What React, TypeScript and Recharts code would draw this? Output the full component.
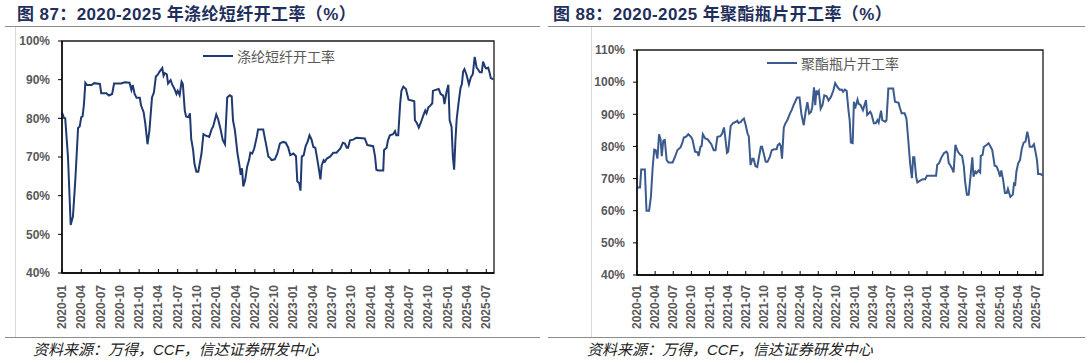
import { LineChart, Line, XAxis, YAxis, ReferenceArea } from 'recharts';

// x positions are months counted from 2020-01 (0 = start of Jan 2020)
const quarterLabels = [
    '2020-01', '2020-04', '2020-07', '2020-10', '2021-01', '2021-04', '2021-07', '2021-10',
    '2022-01', '2022-04', '2022-07', '2022-10', '2023-01', '2023-04', '2023-07', '2023-10',
    '2024-01', '2024-04', '2024-07', '2024-10', '2025-01', '2025-04', '2025-07'
];

const psfYTicks = [40, 50, 60, 70, 80, 90, 100];
const chipYTicks = [40, 50, 60, 70, 80, 90, 100, 110];

// 涤纶短纤开工率
const psfMonths = [
    0, 0.3, 0.5, 0.93, 1.35, 1.7, 2.07, 2.5, 2.75, 3.0,
    3.2, 3.42, 3.63, 3.9, 4.6, 5.0, 5.9, 6.1, 6.9, 7.3,
    7.8, 8.1, 9.2, 9.75, 10.5, 10.8, 11.0, 11.3, 11.6, 12.1,
    12.3, 12.7, 12.96, 13.3, 13.6, 14.0, 14.3, 14.6, 14.9, 15.1,
    15.6, 15.8, 16.0, 16.3, 16.5, 16.9, 17.1, 17.5, 17.8, 18.0,
    18.3, 18.6, 18.8, 19.1, 19.3, 19.7, 19.9, 20.1, 20.4, 20.6,
    20.9, 21.2, 21.7, 22.0, 22.3, 22.9, 23.3, 23.5, 24.0, 24.3,
    24.7, 25.0, 25.35, 25.7, 26.1, 26.4, 26.6, 26.9, 27.3, 27.6,
    27.8, 28.0, 28.2, 28.5, 28.8, 29.1, 29.3, 29.6, 29.9, 30.3,
    30.5, 31.3, 31.6, 31.8, 32.1, 32.3, 32.6, 33.1, 33.5, 33.9,
    34.4, 34.8, 35.2, 35.5, 36.0, 36.4, 36.6, 36.9, 37.1, 37.3,
    37.6, 37.9, 38.2, 38.5, 38.8, 39.1, 39.4, 39.6, 39.9, 40.2,
    40.4, 40.7, 40.9, 41.2, 41.7, 42.2, 42.7, 43.3, 43.7, 44.0,
    44.3, 44.5, 44.8, 45.3, 45.8, 47.1, 47.5, 48.4, 48.7, 48.9,
    49.2, 49.97, 50.1, 50.5, 50.7, 51.0, 51.5, 51.8, 52.0, 52.3,
    52.6, 52.8, 53.1, 53.5, 53.9, 54.4, 54.8, 54.9, 55.2, 55.5,
    55.8, 56.2, 56.5, 56.7, 57.0, 57.2, 57.6, 57.7, 58.0, 58.6,
    58.9, 59.3, 59.5, 59.8, 60.1, 60.3, 60.6, 60.8, 61.0, 61.2,
    61.4, 61.7, 62.0, 62.2, 62.4, 62.6, 62.9, 63.3, 63.6, 63.9,
    64.2, 64.5, 64.7, 65.0, 65.3, 65.5, 65.8, 66.0, 66.3, 66.5,
    66.7, 67.1
];
const psfRates = [
    81.5, 80.1, 80, 70, 52.4, 54.6, 64, 77.5, 77.9, 80.3,
    80.5, 83.7, 89.2, 88.6, 88.6, 89.1, 88.9, 86.5, 86.5, 85.9,
    86.3, 89, 89, 89.3, 89.2, 87.3, 88.6, 86.3, 85.3, 85.3,
    83.3, 81.6, 78.6, 73.3, 76.9, 85.4, 86.7, 90.8, 91.3, 91.9,
    93, 91, 91.7, 91.4, 89, 89.9, 88.9, 87.6, 86.3, 87.1,
    86, 89.5, 88.9, 82, 80.5, 80.3, 81.3, 74.7, 71.7, 68.3,
    66.2, 66.2, 70.9, 75.9, 75.6, 75.2, 77.3, 77.8, 81, 79.7,
    76.9, 74.4, 73.3, 85.4, 86, 85.7, 79.5, 76.9, 70.9, 67.9,
    65.4, 67.1, 62.4, 64.1, 67.5, 69.2, 71.1, 70.9, 72.2, 75.2,
    77.1, 77.1, 74.5, 72.8, 70.1, 69.9, 69.2, 69.4, 70.9, 73.5,
    73.9, 73.7, 72.4, 70.5, 70.9, 70.2, 63.7, 63.2, 61.3, 70.1,
    70.5, 72.8, 73.9, 75.6, 74.6, 72.6, 72.4, 70.5, 67.5, 64.2,
    67.9, 69.2, 68.8, 69.6, 70.1, 71.1, 71.1, 72.2, 73.7, 73.5,
    72.4, 72.4, 74.3, 74.5, 75, 74.8, 73.1, 72.8, 70.1, 66.7,
    66.5, 66.5, 71.8, 72.4, 74.3, 75.6, 75.9, 76.7, 75.6, 75.6,
    83.7, 87.1, 88.2, 87.6, 84.8, 84.6, 84.4, 79.5, 78.8, 77.6,
    78.8, 80.7, 82, 81.3, 82.9, 83.1, 83.9, 87.1, 87.3, 87.6,
    86.3, 85.9, 83.7, 86.7, 88.7, 79.5, 77.8, 70.1, 66.7, 74.3,
    79.9, 84.1, 87.9, 88.8, 92.1, 92.7, 91.4, 88.8, 90.6, 91.4,
    95.9, 93.1, 92.7, 91.9, 91.9, 94.7, 93.3, 92.9, 93.1, 91.9,
    90.4, 90.1
];

// 聚酯瓶片开工率
const chipMonths = [
    0, 0.5, 0.7, 1.3, 1.57, 2.0, 2.3, 2.6, 2.85, 3.1,
    3.38, 3.65, 3.9, 4.1, 4.35, 4.6, 4.9, 5.2, 5.9, 6.3,
    6.7, 7.2, 7.5, 7.75, 8.1, 8.5, 9.0, 9.2, 9.6, 10.0,
    10.2, 10.5, 10.7, 10.9, 11.3, 11.7, 12.0, 12.3, 12.7, 13.0,
    13.3, 13.8, 14.1, 14.4, 14.5, 14.9, 15.1, 15.5, 15.9, 16.3,
    16.6, 16.8, 17.2, 17.4, 17.7, 18.0, 18.3, 18.5, 18.8, 19.1,
    19.3, 19.6, 19.9, 20.2, 20.5, 20.7, 21.0, 21.3, 21.6, 22.0,
    22.3, 22.7, 23.1, 23.3, 23.6, 23.8, 24.0, 24.3, 24.6, 24.9,
    25.3, 25.6, 25.9, 26.1, 26.5, 26.9, 27.2, 27.6, 27.9, 28.2,
    28.5, 28.8, 29.0, 29.3, 29.5, 29.7, 29.9, 30.1, 30.4, 30.7,
    31.0, 31.4, 31.7, 32.1, 32.5, 32.8, 33.2, 33.6, 33.9, 34.1,
    34.4, 34.7, 35.0, 35.2, 35.4, 35.7, 35.9, 36.1, 36.5, 36.7,
    37.0, 37.4, 37.9, 38.1, 38.6, 38.8, 39.2, 39.5, 39.8, 40.0,
    40.2, 40.4, 40.6, 41.1, 41.3, 41.6, 42.4, 42.7, 43.3, 43.5,
    43.8, 44.3, 44.6, 44.9, 45.2, 45.5, 45.7, 45.9, 46.2, 46.4,
    46.8, 47.3, 47.7, 48.0, 48.5, 49.5, 49.7, 50.0, 50.4, 50.8,
    51.2, 51.4, 51.6, 51.8, 52.1, 52.4, 52.7, 53.1, 53.5, 53.8,
    54.1, 54.3, 54.6, 54.9, 55.2, 55.5, 55.7, 56.0, 56.2, 56.5,
    56.8, 56.9, 57.2, 57.4, 57.9, 58.2, 58.5, 58.8, 59.2, 59.5,
    59.8, 60.1, 60.3, 60.6, 60.9, 61.2, 61.4, 61.6, 61.8, 62.2,
    62.4, 62.6, 62.8, 63.1, 63.4, 63.7, 64.0, 64.3, 64.6, 64.8,
    65.0, 65.4, 65.7, 65.9, 66.2, 66.4, 66.8, 67.2
];
const chipRates = [
    67.2, 67.2, 72.8, 72.8, 60, 60, 64.3, 73.6, 79, 78.8,
    76.2, 83.8, 82.2, 77, 81.8, 82, 75.8, 75, 75, 76.8,
    78.9, 79.7, 81.1, 82.8, 83, 83.8, 82.8, 82, 78.4, 78.2,
    77, 79.9, 80.1, 83.8, 82.5, 82.2, 81.4, 80.7, 78.8, 78.8,
    83, 83.2, 84, 85.9, 84.5, 78, 78.4, 86.3, 87.3, 87.6,
    88, 87.3, 87.6, 88.2, 88.7, 86.6, 84, 83.2, 74.2, 76.2,
    76.2, 73.9, 73.6, 76.8, 79.9, 79.9, 77.6, 75.2, 75.2, 76.8,
    78.8, 79.1, 79.1, 80.4, 80.9, 80.1, 76.2, 85.9, 87.3, 88.2,
    90.2, 91.3, 92.8, 93.6, 95.2, 95.2, 90.2, 86.6, 90.7, 93.8,
    90.2, 90.7, 92.2, 98.4, 92.8, 97.4, 96.5, 97.2, 91.7, 92.8,
    95.9, 95.6, 94.3, 95.4, 97.4, 99.7, 98.4, 97.6, 97.7, 97,
    97.7, 97.3, 91.3, 88.2, 81.2, 81, 93.9, 91.8, 94.6, 93.2,
    92.9, 91.3, 94.4, 89.8, 90.8, 90.1, 87.2, 87.2, 88.2, 87.4,
    89.3, 91.1, 88.2, 87.7, 88.2, 98, 98, 93.9, 93.6, 92.1,
    90.3, 90.3, 88.7, 82, 74.8, 70.1, 76.6, 76.6, 70.6, 68.8,
    69.3, 69.8, 69.8, 70.9, 70.9, 70.9, 74.3, 74.8, 76.6, 77.9,
    78.4, 77.9, 74.8, 74.3, 73.3, 71.9, 80.5, 78.4, 77.4, 77.1,
    73.8, 69.1, 65, 65, 70.6, 76.6, 70.6, 72.2, 71.7, 72.5,
    71.9, 77.1, 77.4, 79.8, 80.5, 81, 80, 78.9, 74, 73.8,
    72.5, 70.6, 72.5, 69.6, 65.5, 65.5, 66.8, 65.5, 64.3, 65,
    68.4, 68.1, 72.2, 74.8, 75.8, 79.4, 81.2, 81.5, 84.6, 82.8,
    79.9, 79.9, 80.7, 78.9, 75.8, 71.4, 71.4, 70.9
];

const X_END = 67.2;
const quarterPos = quarterLabels.map((_, i) => i * 3);
const labelFont = "'Liberation Sans', Arial, 'Noto Sans CJK SC', sans-serif";
const cjkFont = "'Liberation Sans', Arial, 'Noto Sans CJK SC', sans-serif";

function QuarterTick(props: any) {
    const { x, y, payload, gap } = props;
    const label = quarterLabels[Math.round(payload.value / 3)];
    return <g>
        <line x1={x} y1={y} x2={x} y2={y - 4} stroke="#000" strokeWidth={1}/>
        <text transform={`translate(${x},${y + gap}) rotate(-90)`} textAnchor="end" dominantBaseline="central"
              fill="#595959" fontSize={12} fontWeight="bold" fontFamily={labelFont}>{label}</text>
    </g>
}

function RatePanel(props: {
    left: number, titleX: number, title: string, name: string, months: number[], rates: number[],
    yTicks: number[], color: string, plotLeft: number, plotRight: number, plotTop: number, plotBottom: number,
    legendX: number, legendY: number, ruleX1: number, ruleX2: number, sideX: number, sourceX: number
}) {
    const data = props.months.map((m, i) => ({ m: m, v: props.rates[i] }));
    const yMin = props.yTicks[0];
    const yMax = props.yTicks[props.yTicks.length - 1];
    const chartH = 340;

    return <>
        <div style={{position: 'absolute', left: props.titleX, top: 4, fontSize: 17, fontWeight: 'bold',
            color: '#1F2F5C', fontFamily: cjkFont, whiteSpace: 'nowrap', lineHeight: '22px',
            letterSpacing: '0.4px'}}>{props.title}</div>
        <div style={{position: 'absolute', left: props.ruleX1, top: 26, width: props.ruleX2 - props.ruleX1,
            height: 0, borderTop: '1px solid #8c8c8c'}}/>
        <div style={{position: 'absolute', left: props.sideX, top: 27, width: 0, height: 310,
            borderLeft: '1px solid #d9d9d9'}}/>
        <div style={{position: 'absolute', left: props.left, top: 0}}>
            <LineChart width={544} height={chartH} data={data}
                       margin={{top: props.plotTop, right: props.left + 544 - props.plotRight, left: 0, bottom: 0}}>
                <XAxis dataKey="m" type="number" domain={[0, X_END]} ticks={quarterPos} interval={0}
                       allowDataOverflow height={chartH - props.plotBottom} tickSize={0} tickMargin={0}
                       tickLine={false} axisLine={{stroke: '#000', strokeWidth: 1.3}}
                       tick={(p: any) => <QuarterTick {...p} gap={285 - props.plotBottom}/>}/>
                <YAxis type="number" domain={[yMin, yMax]} ticks={props.yTicks} interval={0}
                       width={props.plotLeft - props.left} tickSize={4} tickMargin={8}
                       tickFormatter={(v: number) => `${v}%`}
                       tickLine={{stroke: '#000'}} axisLine={{stroke: '#000', strokeWidth: 1.3}}
                       tick={{fill: '#595959', fontSize: 12, fontWeight: 'bold', fontFamily: labelFont}}/>
                <ReferenceArea x1={0} x2={X_END} y1={yMin} y2={yMax} fill="none" stroke="#1a1a1a"
                               strokeWidth={1.3}/>
                <Line type="linear" dataKey="v" stroke={props.color} strokeWidth={2} dot={false}
                      isAnimationActive={false}/>
            </LineChart>
        </div>
        <div style={{position: 'absolute', left: props.legendX, top: props.legendY - 10, height: 20,
            display: 'flex', alignItems: 'center', whiteSpace: 'nowrap'}}>
            <span style={{display: 'inline-block', width: 30, borderTop: `2px solid ${props.color}`}}/>
            <span style={{marginLeft: 4, fontSize: 14, color: '#595959',
                fontFamily: "'Noto Sans CJK SC', sans-serif"}}>{props.name}</span>
        </div>
        <div style={{position: 'absolute', left: props.ruleX1, top: 337, width: props.ruleX2 - props.ruleX1,
            height: 0, borderTop: '1px solid #8c8c8c'}}/>
        <div style={{position: 'absolute', left: props.sourceX, top: 341, fontSize: 15, fontStyle: 'italic',
            color: '#222', fontFamily: cjkFont, whiteSpace: 'nowrap', lineHeight: '18px'}}>
            资料来源：万得，CCF，信达证券研发中心
        </div>
    </>
}

export default function App() {
    return <div style={{position: 'absolute', left: 0, top: 0, width: 1088, height: 363, background: '#fff',
        overflow: 'hidden'}}>
        <RatePanel left={0} titleX={17} title="图 87：2020-2025 年涤纶短纤开工率（%）" name="涤纶短纤开工率"
                   months={psfMonths} rates={psfRates} yTicks={psfYTicks} color="#1F3A70"
                   plotLeft={62} plotRight={494} plotTop={41} plotBottom={273}
                   legendX={203} legendY={56} ruleX1={5} ruleX2={540} sideX={15} sourceX={33}/>
        <RatePanel left={544} titleX={553} title="图 88：2020-2025 年聚酯瓶片开工率（%）" name="聚酯瓶片开工率"
                   months={chipMonths} rates={chipRates} yTicks={chipYTicks} color="#3B5A8E"
                   plotLeft={637} plotRight={1043} plotTop={50} plotBottom={275}
                   legendX={767} legendY={63} ruleX1={548} ruleX2={1085} sideX={591} sourceX={587}/>
    </div>
}
